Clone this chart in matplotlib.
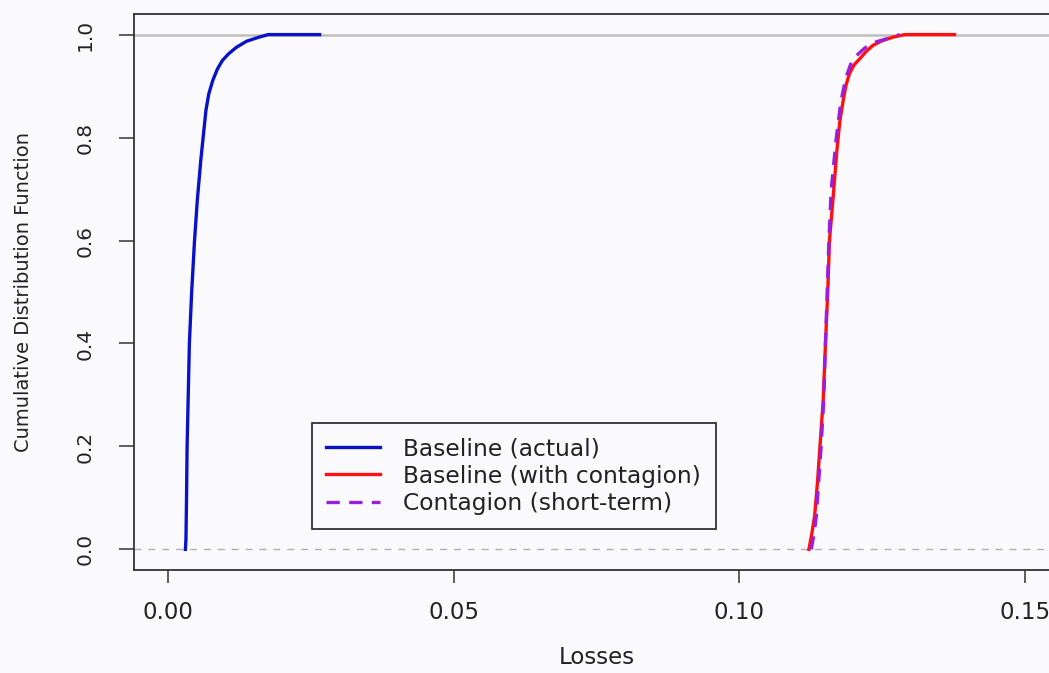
import matplotlib
matplotlib.use("Agg")
import matplotlib.pyplot as plt

# ECDF curves (x = losses, y = cumulative probability)
base_actual_x = [0.0030, 0.0031, 0.0032, 0.0033, 0.0035, 0.0037, 0.0041, 0.0046,
                 0.0051, 0.0057, 0.0062, 0.0066, 0.0071, 0.0078, 0.0086, 0.0095,
                 0.0106, 0.0119, 0.0137, 0.0159, 0.0175, 0.0265]
base_actual_y = [0.0, 0.02, 0.1, 0.2, 0.3, 0.4, 0.5, 0.6,
                 0.68, 0.756, 0.81, 0.853, 0.885, 0.911, 0.933, 0.95,
                 0.963, 0.975, 0.987, 0.995, 1.0, 1.0]

base_contagion_x = [0.1122, 0.1127, 0.1132, 0.1137, 0.1141, 0.1147, 0.1151, 0.1155,
                    0.1158, 0.1164, 0.1171, 0.1176, 0.1182, 0.1187, 0.1193, 0.1201,
                    0.1211, 0.1222, 0.1234, 0.1250, 0.1269, 0.1290, 0.1377]
base_contagion_y = [0.0, 0.03, 0.065, 0.13, 0.194, 0.29, 0.4, 0.5,
                    0.6, 0.678, 0.775, 0.83, 0.872, 0.902, 0.924, 0.941,
                    0.953, 0.967, 0.979, 0.988, 0.995, 1.0, 1.0]

short_term_x = [0.1126, 0.1131, 0.1135, 0.1139, 0.1143, 0.1148, 0.1151, 0.1154,
                0.1157, 0.1161, 0.1170, 0.1178, 0.1187, 0.1195, 0.1205, 0.1220,
                0.1237, 0.1262, 0.1281]
short_term_y = [0.0, 0.03, 0.065, 0.13, 0.194, 0.29, 0.4, 0.5,
                0.6, 0.698, 0.80, 0.87, 0.917, 0.942, 0.959, 0.974,
                0.985, 0.993, 1.0]

labels = ["Baseline (actual)", "Baseline (with contagion)", "Contagion (short-term)"]
colors = ["#0a12c8", "#ff1010", "#9a1ee0"]

xticks = [0.00, 0.05, 0.10, 0.15]
xtick_labels = ["0.00", "0.05", "0.10", "0.15"]
yticks = [0.0, 0.2, 0.4, 0.6, 0.8, 1.0]
ytick_labels = ["0.0", "0.2", "0.4", "0.6", "0.8", "1.0"]

BG = "#fafafc"
INK = "#222222"

plt.rcParams["font.family"] = "DejaVu Sans"

fig = plt.figure(figsize=(10.49, 6.73), dpi=100, facecolor=BG)
W, H = 1049, 673
left, right, top, bottom = 134, 1059, 14, 570
ax = fig.add_axes([left / W, 1 - bottom / H, (right - left) / W, (bottom - top) / H])
ax.set_facecolor(BG)

ax.axhline(1.0, color="#bdbdbd", lw=1.8, zorder=1)
ax.axhline(0.0, color="#b0b0b0", lw=1.0, ls=(0, (5, 5)), zorder=1)

ax.plot(base_actual_x, base_actual_y, color=colors[0], lw=2.4, label=labels[0], zorder=3)
ax.plot(base_contagion_x, base_contagion_y, color=colors[1], lw=2.4, label=labels[1], zorder=3)
ax.plot(short_term_x, short_term_y, color=colors[2], lw=2.4, ls=(0, (4, 2.8)),
        label=labels[2], zorder=4)

ax.set_xlim(-0.006, 0.156)
ax.set_ylim(-0.04, 1.04)

ax.set_xticks(xticks)
ax.set_xticklabels(xtick_labels)
ax.set_yticks(yticks)
ax.set_yticklabels(ytick_labels, rotation=90, va="center")

ax.tick_params(axis="x", length=9.5, width=1.1, color="#333333", pad=13,
               labelsize=16.5, labelcolor=INK)
ax.tick_params(axis="y", length=11, width=1.1, color="#333333", pad=17,
               labelsize=14.5, labelcolor=INK)

for side in ["left", "bottom", "top", "right"]:
    ax.spines[side].set_color("#333333")
    ax.spines[side].set_linewidth(1.3)

ax.set_xlabel("Losses", fontsize=16.5, color=INK, labelpad=16)
ax.set_ylabel("Cumulative Distribution Function", fontsize=14, color=INK, labelpad=31)

leg = ax.legend(loc="upper left", bbox_to_anchor=(312 / W, 1 - 423 / H),
                bbox_transform=fig.transFigure, borderaxespad=0,
                fontsize=16.8, frameon=True, fancybox=False, shadow=False,
                handlelength=2.3, handletextpad=1.0, labelspacing=0.18,
                borderpad=0.62)
frame = leg.get_frame()
frame.set_edgecolor("#333333")
frame.set_linewidth(1.3)
frame.set_facecolor(BG)
frame.set_alpha(1)
for t in leg.get_texts():
    t.set_color(INK)

fig.savefig("out.png", dpi=100, facecolor=BG)
